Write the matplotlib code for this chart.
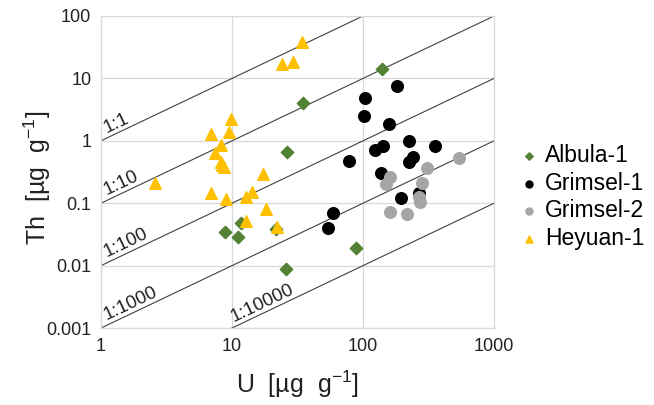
import numpy as np
import matplotlib
matplotlib.use('Agg')
import matplotlib.pyplot as plt
from matplotlib.transforms import ScaledTranslation

plt.rcParams['font.family'] = ['Liberation Sans', 'DejaVu Sans']
plt.rcParams['mathtext.default'] = 'regular'

# U and Th concentrations [ug/g] per sample set
albula_u = [139.6, 35.0, 26.4, 11.7, 8.8, 11.2, 21.6, 25.8, 88.9]
albula_th = [14.0, 3.99, 0.655, 0.0477, 0.0345, 0.0287, 0.0382, 0.0089, 0.0194]

grimsel1_u = [180.7, 103.5, 101.8, 157.9, 226, 352, 141.3, 124, 242, 226,
              78.7, 136.5, 195, 266, 59.3, 53.7]
grimsel1_th = [7.55, 4.85, 2.52, 1.86, 0.98, 0.817, 0.835, 0.713, 0.556, 0.462,
               0.469, 0.301, 0.122, 0.147, 0.0705, 0.0401]

grimsel2_u = [537, 310, 160, 150.6, 284, 269, 274, 160.8, 217]
grimsel2_th = [0.53, 0.366, 0.266, 0.201, 0.209, 0.124, 0.106, 0.0713, 0.0663]

heyuan_u = [34.2, 23.9, 29.2, 9.8, 6.88, 9.5, 8.2, 7.4, 8.3, 8.4, 8.7, 17.3,
            2.6, 6.9, 9.0, 12.8, 14.2, 18.2, 12.9, 22.2]
heyuan_th = [38.3, 17.0, 18.1, 2.2, 1.28, 1.38, 0.87, 0.645, 0.46, 0.41, 0.376,
             0.294, 0.213, 0.147, 0.115, 0.127, 0.151, 0.0817, 0.0525, 0.041]

# Th:U reference ratios, their labels and the U value where each label starts
ratios = [1, 0.1, 0.01, 0.001, 0.0001]
ratio_labels = ['1:1', '1:10', '1:100', '1:1000', '1:10000']
label_x = [1.15, 1.15, 1.15, 1.15, 10.6]

fig = plt.figure(figsize=(6.54, 4.05), dpi=100)
ax = fig.add_axes([0.1544, 0.19, 0.601, 0.7705])

xs = np.array([1, 1000])
for r in ratios:
    ax.plot(xs, xs * r, color='#404040', lw=0.8, zorder=2)

# slope of the ratio lines on screen: 131 px per decade in x, 62.4 px in y
ang = np.degrees(np.arctan(62.4 / 131.0))
# lift labels a little off the line, perpendicular to it
gap = 0.05
off = ScaledTranslation(-gap * np.sin(np.radians(ang)), gap * np.cos(np.radians(ang)),
                        fig.dpi_scale_trans)
for lx, r, txt in zip(label_x, ratios, ratio_labels):
    ax.text(lx, lx * r, txt, rotation=ang, rotation_mode='anchor', ha='left', va='baseline',
            fontsize=13.5, color='#222222', zorder=3, transform=ax.transData + off)

ax.scatter(albula_u, albula_th, marker='D', s=40, color='#548235', label='Albula-1', zorder=4)
ax.scatter(grimsel1_u, grimsel1_th, marker='o', s=70, color='#000000', label='Grimsel-1', zorder=4)
ax.scatter(grimsel2_u, grimsel2_th, marker='o', s=70, color='#A5A5A5', label='Grimsel-2', zorder=4)
ax.scatter(heyuan_u, heyuan_th, marker='^', s=70, color='#FFC000', label='Heyuan-1', zorder=4)

ax.set_xscale('log')
ax.set_yscale('log')
ax.set_xlim(1, 1000)
ax.set_ylim(0.001, 100)
ax.set_xticks([1, 10, 100, 1000])
ax.set_xticklabels(['1', '10', '100', '1000'])
ax.set_yticks([0.001, 0.01, 0.1, 1, 10, 100])
ax.set_yticklabels(['0.001', '0.01', '0.1', '1', '10', '100'])
ax.minorticks_off()
ax.tick_params(length=0, labelsize=13, colors='#222222', pad=7)
ax.grid(True, color='#D9D9D9', lw=0.9, zorder=0)
ax.set_axisbelow(True)
for sp in ax.spines.values():
    sp.set_color('#D9D9D9')
    sp.set_linewidth(0.9)

ax.set_xlabel(r'U  [µg  g$^{-1}$]', fontsize=18, color='#222222', labelpad=10)
ax.set_ylabel(r'Th  [µg  g$^{-1}$]', fontsize=18, color='#222222')
ax.yaxis.set_label_coords(-0.122, 0.48)

ax.legend(loc='center left', bbox_to_anchor=(1.007, 0.42), frameon=False, fontsize=16.5,
          markerscale=0.6, handletextpad=0.2, labelspacing=0.2, handlelength=1.0)

fig.savefig('out.png', dpi=100)
